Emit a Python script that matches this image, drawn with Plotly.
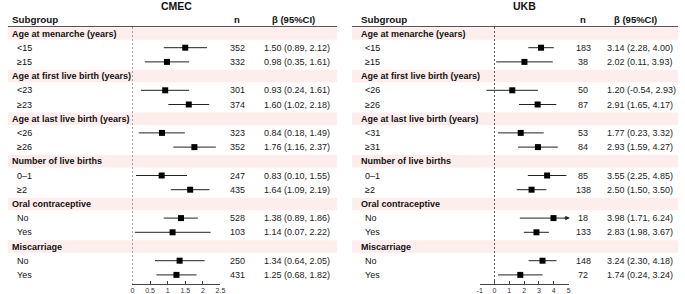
import plotly.graph_objects as go

W, H = 685, 294

groups = ["Age at menarche (years)", "Age at first live birth (years)",
          "Age at last live birth (years)", "Number of live births",
          "Oral contraceptive", "Miscarriage"]

cmec_levels = ["<15", "≥15", "<23", "≥23", "<26", "≥26", "0–1", "≥2", "No", "Yes", "No", "Yes"]
cmec_n = [352, 332, 301, 374, 323, 352, 247, 435, 528, 103, 250, 431]
cmec_beta = [1.50, 0.98, 0.93, 1.60, 0.84, 1.76, 0.83, 1.64, 1.38, 1.14, 1.34, 1.25]
cmec_lo = [0.89, 0.35, 0.24, 1.02, 0.18, 1.16, 0.10, 1.09, 0.89, 0.07, 0.64, 0.68]
cmec_hi = [2.12, 1.61, 1.61, 2.18, 1.49, 2.37, 1.55, 2.19, 1.86, 2.22, 2.05, 1.82]

ukb_levels = ["<15", "≥15", "<26", "≥26", "<31", "≥31", "0–1", "≥2", "No", "Yes", "No", "Yes"]
ukb_n = [183, 38, 50, 87, 53, 84, 85, 138, 18, 133, 148, 72]
ukb_beta = [3.14, 2.02, 1.20, 2.91, 1.77, 2.93, 3.55, 2.50, 3.98, 2.83, 3.24, 1.74]
ukb_lo = [2.28, 0.11, -0.54, 1.65, 0.23, 1.59, 2.25, 1.50, 1.71, 1.98, 2.30, 0.24]
ukb_hi = [4.00, 3.93, 2.93, 4.17, 3.32, 4.27, 4.85, 3.50, 6.24, 3.67, 4.18, 3.24]

cmec_ticks = [0, 0.5, 1, 1.5, 2, 2.5]
cmec_ticktext = ["0", "0.5", "1", "1.5", "2", "2.5"]
ukb_ticks = [-1, 0, 1, 2, 3, 4, 5]
ukb_ticktext = ["-1", "0", "1", "2", "3", "4", "5"]

FONT = "Liberation Sans, Arial, sans-serif"
ROW_PX0 = 33.5
ROW_STEP = 14.2
AXIS_PX = 284


def row_of_px(px):
    return (px - ROW_PX0) / ROW_STEP


def xp(px):
    return px / W


# level rows: group g at 3g, levels at 3g+1, 3g+2
level_rows = [3 * (k // 2) + 1 + (k % 2) for k in range(12)]
group_rows = [3 * g for g in range(len(groups))]

panels = [
    dict(title="CMEC", title_x=175.5, left=5, right=338, label_x=7.5, level_x=12.5,
         n_x=237, beta_x=262, beta_hdr_x=293.5, ax_lo=131, ax_hi=220,
         xr=[0, 2.5], tv=cmec_ticks, tt=cmec_ticktext,
         levels=cmec_levels, n=cmec_n, beta=cmec_beta, lo=cmec_lo, hi=cmec_hi),
    dict(title="UKB", title_x=527.5, left=353, right=683, label_x=360, level_x=364,
         n_x=587, beta_x=609, beta_hdr_x=640, ax_lo=482.3, ax_hi=572.3,
         xr=[-1, 5], tv=ukb_ticks, tt=ukb_ticktext,
         levels=ukb_levels, n=ukb_n, beta=ukb_beta, lo=ukb_lo, hi=ukb_hi),
]

fig = go.Figure()
shapes = []
annotations = []
y_top = row_of_px(0)
y_bot = row_of_px(AXIS_PX)

for p_i, p in enumerate(panels):
    xa = "x" if p_i == 0 else "x2"
    xmax = p["xr"][1]
    # pink group bands
    for r in group_rows:
        shapes.append(dict(type="rect", xref="paper", yref="y",
                           x0=xp(p["left"]), x1=xp(p["right"]), y0=r - 0.44, y1=r + 0.44,
                           fillcolor="#FDEDED", line=dict(width=0), layer="below"))
    # header underline
    shapes.append(dict(type="line", xref="paper", yref="y",
                       x0=xp(p["left"]), x1=xp(p["right"]),
                       y0=row_of_px(26.5), y1=row_of_px(26.5),
                       line=dict(color="#555555", width=1)))
    # dashed reference line at 0
    shapes.append(dict(type="line", xref=xa, yref="y", x0=0, x1=0,
                       y0=row_of_px(27), y1=y_bot,
                       line=dict(color="#555555", width=1, dash="2px,2px")))

    hi_clip = [min(h, xmax) for h in p["hi"]]
    fig.add_trace(go.Scatter(
        x=p["beta"], y=level_rows, xaxis=xa, yaxis="y", mode="markers",
        marker=dict(symbol="square", size=6, color="black"),
        error_x=dict(type="data", symmetric=False,
                     array=[h - b for h, b in zip(hi_clip, p["beta"])],
                     arrayminus=[b - l for b, l in zip(p["beta"], p["lo"])],
                     color="#222222", thickness=1, width=0),
        showlegend=False, hoverinfo="skip", cliponaxis=False))
    for k, h in enumerate(p["hi"]):
        if h > xmax:
            annotations.append(dict(x=xmax + 0.08, y=level_rows[k], xref=xa, yref="y",
                                    ax=xmax - 0.4, ay=level_rows[k], axref=xa, ayref="y",
                                    showarrow=True, arrowhead=2, arrowsize=0.9,
                                    arrowwidth=1, arrowcolor="#222222", text=""))

    # titles and headers
    annotations.append(dict(x=xp(p["title_x"]), y=row_of_px(6), xref="paper", yref="y",
                            text="<b>%s</b>" % p["title"], showarrow=False,
                            xanchor="center", yanchor="middle",
                            font=dict(family=FONT, size=10.5, color="#111111")))
    annotations.append(dict(x=xp(p["label_x"]), y=row_of_px(19), xref="paper", yref="y",
                            text="<b>Subgroup</b>", showarrow=False,
                            xanchor="left", yanchor="middle",
                            font=dict(family=FONT, size=9.8, color="#111111")))
    annotations.append(dict(x=xp(p["n_x"]), y=row_of_px(19), xref="paper", yref="y",
                            text="<b>n</b>", showarrow=False,
                            xanchor="center", yanchor="middle",
                            font=dict(family=FONT, size=9.5, color="#111111")))
    annotations.append(dict(x=xp(p["beta_hdr_x"]), y=row_of_px(19), xref="paper", yref="y",
                            text="<b>β (95%CI)</b>", showarrow=False,
                            xanchor="center", yanchor="middle",
                            font=dict(family=FONT, size=9.5, color="#111111")))
    for g, r in enumerate(group_rows):
        annotations.append(dict(x=xp(p["label_x"]), y=r, xref="paper", yref="y",
                                text="<b>%s</b>" % groups[g], showarrow=False,
                                xanchor="left", yanchor="middle",
                                font=dict(family=FONT, size=9, color="#111111")))
    for k, r in enumerate(level_rows):
        annotations.append(dict(x=xp(p["level_x"]), y=r, xref="paper", yref="y",
                                text=p["levels"][k], showarrow=False,
                                xanchor="left", yanchor="middle",
                                font=dict(family=FONT, size=9, color="#111111")))
        annotations.append(dict(x=xp(p["n_x"]), y=r, xref="paper", yref="y",
                                text=str(p["n"][k]), showarrow=False,
                                xanchor="center", yanchor="middle",
                                font=dict(family=FONT, size=9, color="#222222")))
        annotations.append(dict(x=xp(p["beta_x"]), y=r, xref="paper", yref="y",
                                text="%.2f (%.2f, %.2f)" % (p["beta"][k], p["lo"][k], p["hi"][k]),
                                showarrow=False, xanchor="left", yanchor="middle",
                                font=dict(family=FONT, size=9, color="#222222")))

axis_common = dict(showgrid=False, zeroline=False, showline=True, linecolor="#444444",
                   linewidth=1, ticks="inside", ticklen=3, tickcolor="#444444",
                   tickfont=dict(family=FONT, size=7, color="#333333"),
                   anchor="y", fixedrange=True)

fig.update_layout(
    width=W, height=H,
    margin=dict(l=0, r=0, t=0, b=0),
    paper_bgcolor="white", plot_bgcolor="rgba(0,0,0,0)",
    xaxis=dict(domain=[xp(131), xp(220)], range=panels[0]["xr"],
               tickvals=cmec_ticks, ticktext=cmec_ticktext, **axis_common),
    xaxis2=dict(domain=[xp(482.3), xp(572.3)], range=panels[1]["xr"],
                tickvals=ukb_ticks, ticktext=ukb_ticktext, **axis_common),
    yaxis=dict(domain=[(H - AXIS_PX) / H, 1], range=[y_bot, y_top], visible=False,
               fixedrange=True),
    shapes=shapes, annotations=annotations,
)

fig.write_html("out.html", config={"displayModeBar": False},
               post_script="document.body.style.margin='0';document.body.style.overflow='hidden';")
